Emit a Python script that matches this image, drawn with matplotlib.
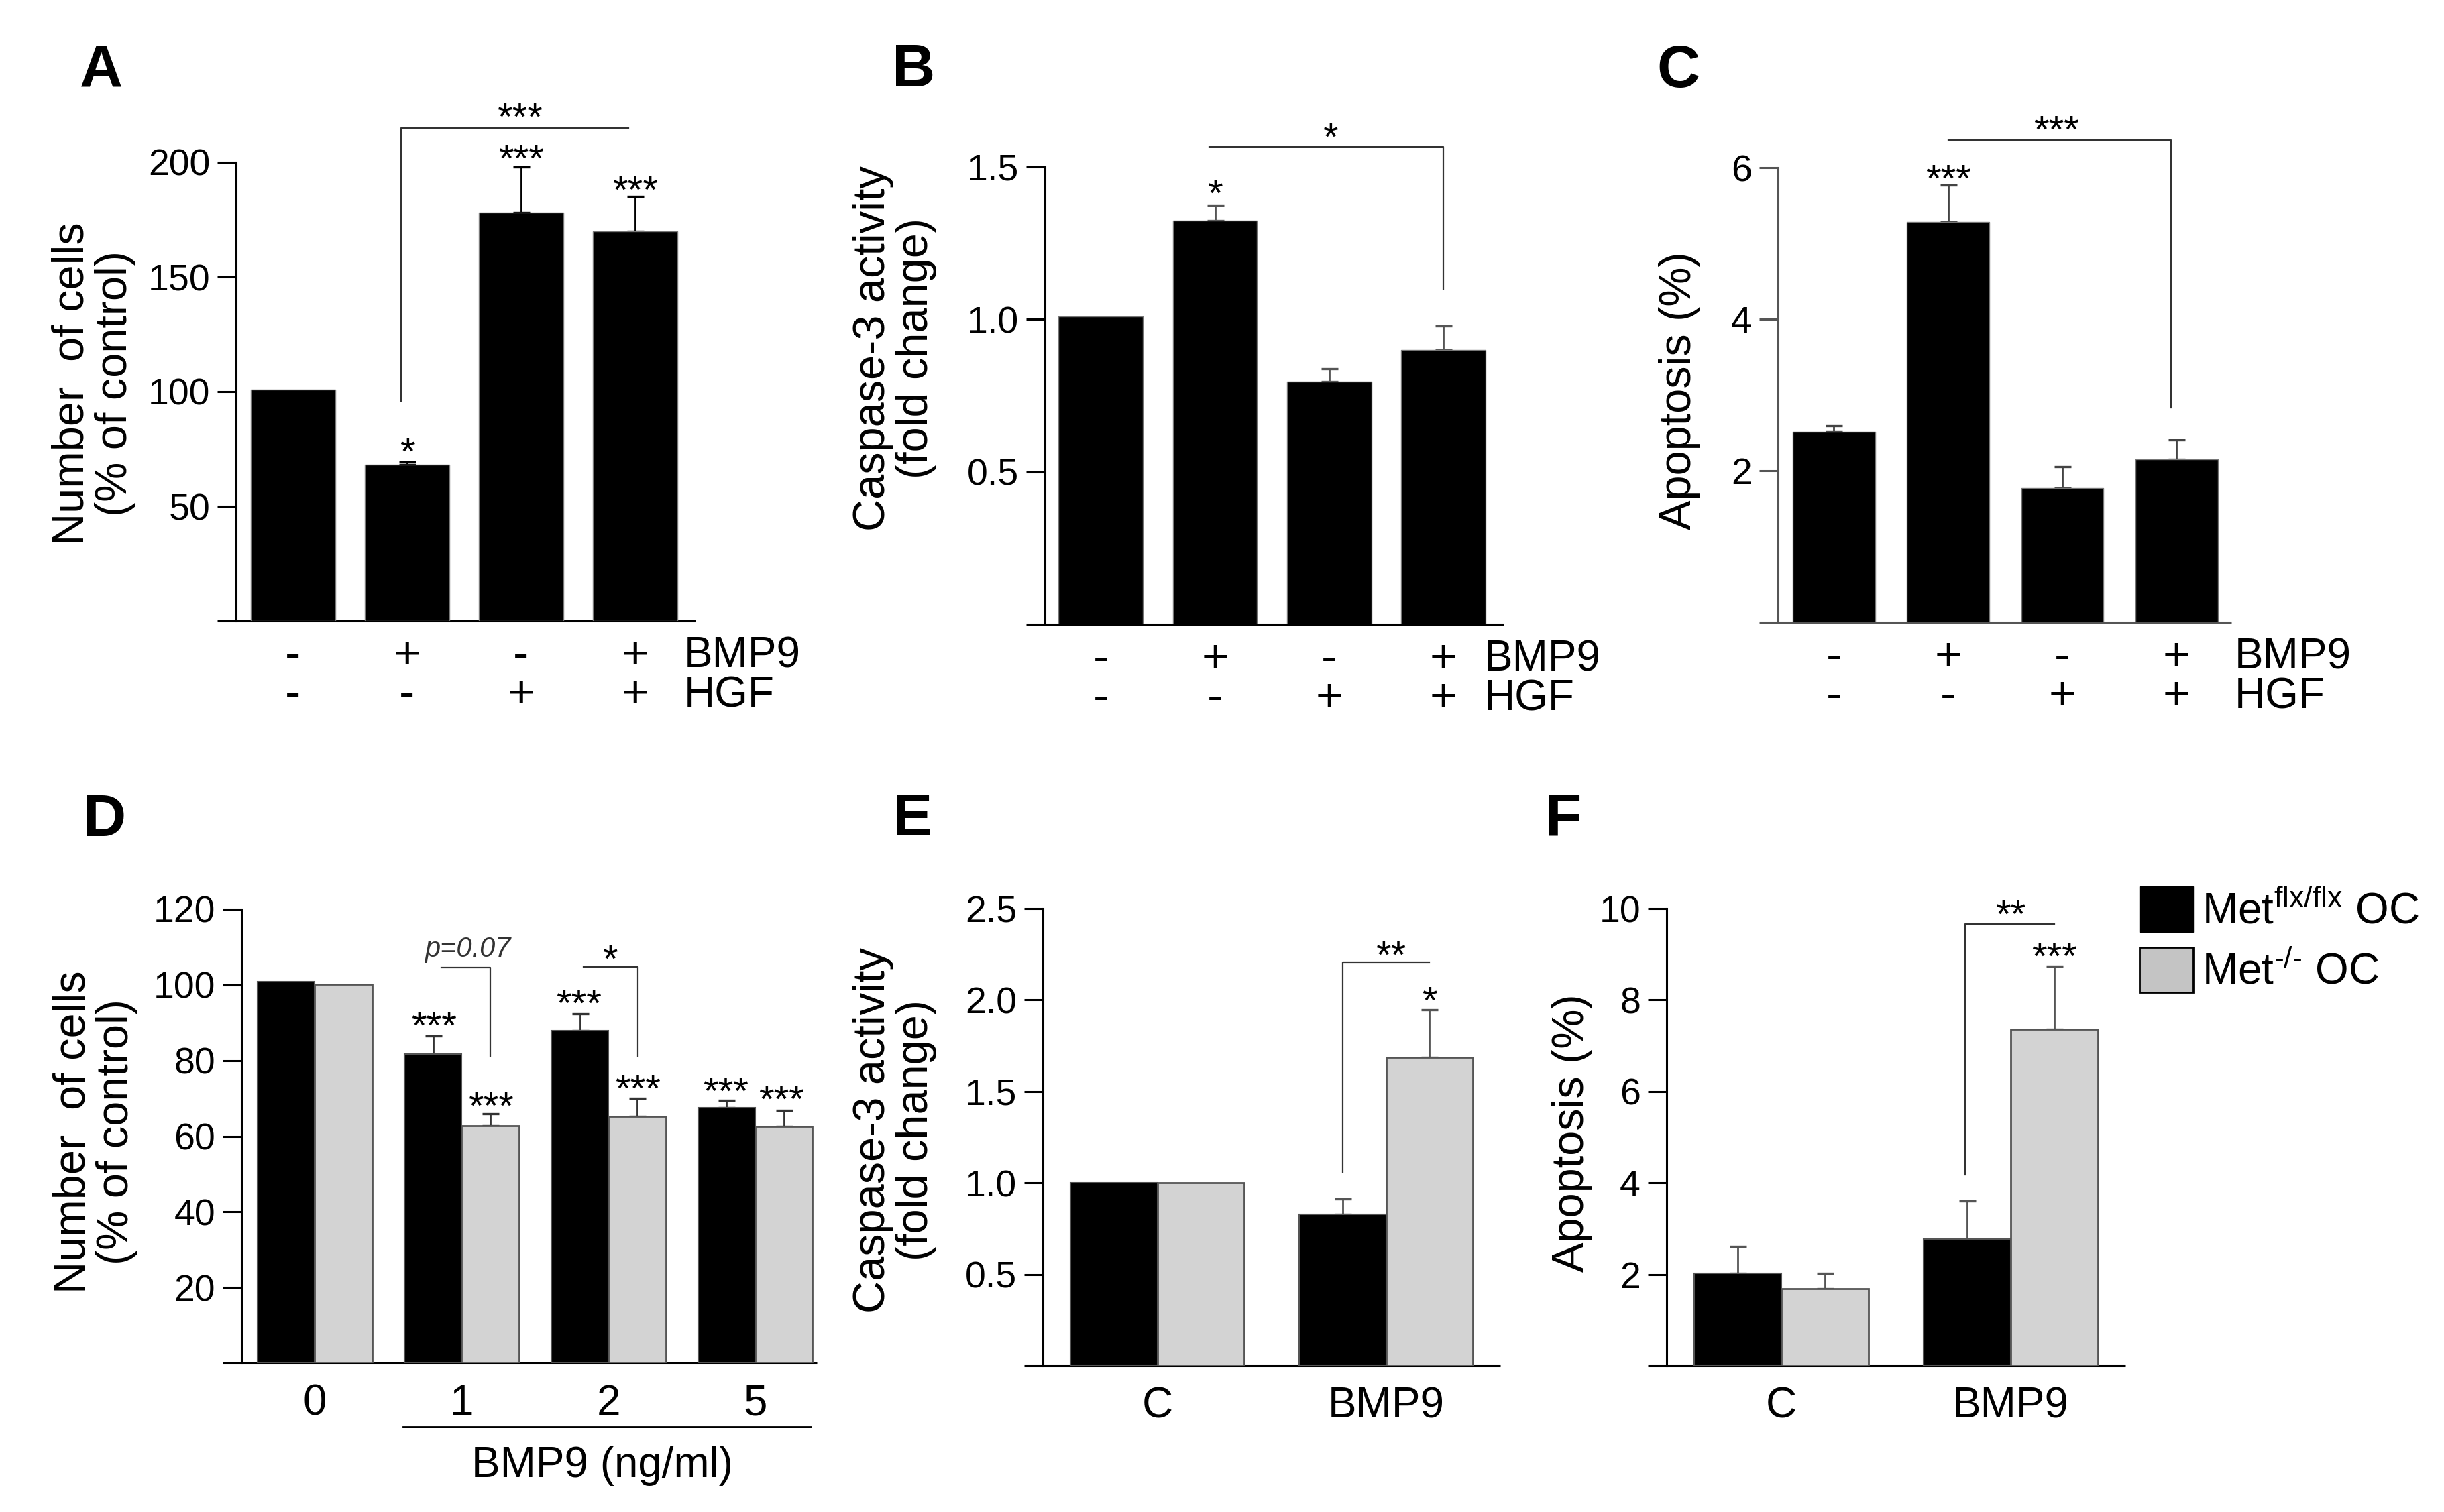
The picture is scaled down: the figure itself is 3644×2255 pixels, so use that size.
import matplotlib
matplotlib.use("Agg")
import matplotlib.pyplot as plt
from matplotlib import transforms
from matplotlib.patches import Patch

plt.rcParams['font.family'] = ['Liberation Sans', 'DejaVu Sans']
plt.rcParams['mathtext.fontset'] = 'custom'
plt.rcParams['mathtext.rm'] = 'Liberation Sans'
plt.rcParams['mathtext.it'] = 'Liberation Sans:italic'

# ---- data ----
bmp9_row = ['-', '+', '-', '+']
hgf_row = ['-', '-', '+', '+']

a_vals = [101, 68, 178, 170]
a_err = [0, 1.2, 20, 15]
b_vals = [1.01, 1.325, 0.797, 0.899]
b_err = [0, 0.05, 0.04, 0.08]
c_vals = [2.51, 5.28, 1.77, 2.15]
c_err = [0.08, 0.49, 0.28, 0.26]

d_groups = ['0', '1', '2', '5']
d_flx = [100.9, 81.8, 87.9, 67.6]
d_flx_err = [0, 4.7, 4.5, 1.9]
d_ko = [100.1, 62.8, 65.2, 62.5]
d_ko_err = [0, 3.1, 4.9, 4.3]

ef_groups = ['C', 'BMP9']
e_flx = [1.0, 0.827]
e_flx_err = [0, 0.085]
e_ko = [1.0, 1.688]
e_ko_err = [0, 0.26]
f_flx = [2.03, 2.77]
f_flx_err = [0.58, 0.84]
f_ko = [1.68, 7.36]
f_ko_err = [0.35, 1.38]

legend_labels = [r'Met$^{\mathrm{flx/flx}}$ OC', 'Met$^{\u2010/\u2010}$ OC']

W, H = 3644, 2255
GRAY = '#d3d3d3'
fig = plt.figure(figsize=(W / 100, H / 100), dpi=100)


def px_rect(x0, x1, yt, yb):
    return [x0 / W, 1 - yb / H, (x1 - x0) / W, (yb - yt) / H]


def style_axes(ax, xlim, ylim, yticks, color='black'):
    ax.set_xlim(*xlim)
    ax.set_ylim(*ylim)
    ax.set_yticks(yticks)
    for s in ['top', 'right', 'bottom']:
        ax.spines[s].set_visible(False)
    ax.spines['left'].set_color(color)
    ax.spines['left'].set_linewidth(2.2)
    ax.tick_params(axis='y', length=20, width=2.2, labelsize=40, pad=8, color=color)
    ax.tick_params(axis='x', length=0)
    ax.set_xticks([])
    ext = 28 / (ax.get_position().width * W)
    ax.plot([-ext, 1], [0, 0], transform=ax.transAxes, color=color, lw=2.2,
            clip_on=False, solid_capstyle='butt')


def err_up(ax, xs, vals, errs, color='#333333'):
    for x, v, e in zip(xs, vals, errs):
        if e > 0:
            ax.errorbar(x, v, yerr=[[0], [e]], fmt='none', ecolor=color,
                        elinewidth=2.0, capsize=9, capthick=2.4, zorder=1)


def star(ax, x, y, s, fs=42):
    ax.annotate(s, (x, y), xytext=(0, -0.58 * fs), textcoords='offset points',
                ha='center', va='baseline', fontsize=fs, annotation_clip=False)


def bracket(ax, x0, x1, y, y0=None, y1=None):
    xs, ys = [], []
    if y0 is not None:
        xs.append(x0); ys.append(y0)
    xs += [x0, x1]; ys += [y, y]
    if y1 is not None:
        xs.append(x1); ys.append(y1)
    ax.plot(xs, ys, color='#333333', lw=1.6, clip_on=False)


def sign_rows(ax, label_x):
    tr = transforms.blended_transform_factory(ax.transData, ax.transAxes)
    for i, (b, h) in enumerate(zip(bmp9_row, hgf_row)):
        ax.annotate(b, (i, 0), xycoords=tr, xytext=(0, -38), textcoords='offset points',
                    ha='center', va='center', fontsize=50)
        ax.annotate(h, (i, 0), xycoords=tr, xytext=(0, -80), textcoords='offset points',
                    ha='center', va='center', fontsize=50)
    ax.annotate('BMP9', (label_x, 0), xycoords=tr, xytext=(0, -38), textcoords='offset points',
                ha='left', va='center', fontsize=46)
    ax.annotate('HGF', (label_x, 0), xycoords=tr, xytext=(0, -80), textcoords='offset points',
                ha='left', va='center', fontsize=46)


def ylab(x, y, s):
    fig.text(x / W, 1 - y / H, s, rotation=90, ha='center', va='center',
             fontsize=48, linespacing=1.05, multialignment='center')


def letter(x, y, s):
    fig.text(x / W, 1 - y / H, s, ha='center', va='baseline', fontsize=64, fontweight='bold')


# ---- A ----
ax = fig.add_axes(px_rect(352, 1037, 242, 926))
style_axes(ax, (-0.5, 3.53), (0, 200), [50, 100, 150, 200])
xs = range(len(a_vals))
ax.bar(xs, a_vals, width=0.74, color='black', edgecolor='#777777', lw=1, zorder=2)
err_up(ax, xs, a_vals, a_err, 'black')
star(ax, 1, 78, '*'); star(ax, 2, 206, '***'); star(ax, 3, 192, '***')
bracket(ax, 0.95, 2.94, 215, y0=96)
star(ax, 1.99, 224, '***')
sign_rows(ax, 3.43)
ylab(140, 572, 'Number  of cells\n(% of control)')
letter(151, 130, 'A')

# ---- B ----
ax = fig.add_axes(px_rect(1558, 2242, 249, 931))
style_axes(ax, (-0.49, 3.53), (0, 1.5), [0.5, 1.0, 1.5])
xs = range(len(b_vals))
ax.bar(xs, b_vals, width=0.74, color='black', edgecolor='#777777', lw=1, zorder=2)
err_up(ax, xs, b_vals, b_err, '#555555')
star(ax, 1, 1.445, '*')
bracket(ax, 0.95, 3.0, 1.565, y1=1.10)
star(ax, 2.01, 1.63, '*')
sign_rows(ax, 3.36)
ylab(1334, 520, 'Caspase-3 activity\n(fold change)')
letter(1362, 129, 'B')

# ---- C ----
ax = fig.add_axes(px_rect(2651, 3327, 250, 928))
style_axes(ax, (-0.49, 3.48), (0, 6), [2, 4, 6], color='#555555')
xs = range(len(c_vals))
ax.bar(xs, c_vals, width=0.72, color='black', edgecolor='#777777', lw=1, zorder=2)
err_up(ax, xs, c_vals, c_err, '#444444')
star(ax, 1, 5.98, '***')
bracket(ax, 1.0, 2.95, 6.36, y1=2.83)
star(ax, 1.95, 6.63, '***')
sign_rows(ax, 3.51)
ylab(2504, 583, 'Apoptosis (%)')
letter(2502, 130, 'C')

# ---- D ----
ax = fig.add_axes(px_rect(360, 1218, 1356, 2033))
style_axes(ax, (-0.5, 3.42), (0, 120), [20, 40, 60, 80, 100, 120])
w = 0.39
gx = list(range(len(d_groups)))
xb = [g - w / 2 for g in gx]
xg = [g + w / 2 for g in gx]
ax.bar(xb, d_flx, width=w, color='black', edgecolor='#555555', lw=1.5, zorder=2)
ax.bar(xg, d_ko, width=w, color=GRAY, edgecolor='#555555', lw=2, zorder=2)
err_up(ax, xb, d_flx, d_flx_err)
err_up(ax, xg, d_ko, d_ko_err)
for x, y in [(0.81, 91.9), (1.2, 70.6), (1.8, 97.7), (2.2, 75.1), (2.8, 74.5), (3.18, 72.3)]:
    star(ax, x, y, '***')
bracket(ax, 0.86, 1.195, 104.5, y1=81.2)
ax.annotate('p=0.07', (1.04, 110), xytext=(0, -0.36 * 30), textcoords='offset points',
            ha='center', va='baseline', fontsize=30, style='italic', color='#333333',
            annotation_clip=False)
bracket(ax, 1.83, 2.2, 104.8, y1=81.2)
star(ax, 2.01, 109.3, '*')
ax.set_xticks(gx)
ax.set_xticklabels(d_groups, fontsize=46)
ax.tick_params(axis='x', pad=22)
tr = transforms.blended_transform_factory(ax.transData, ax.transAxes)
ax.plot([0.6, 3.38], [-95 / 677, -95 / 677], transform=tr, color='black', lw=2, clip_on=False)
ax.text(1.96, -153 / 677, 'BMP9 (ng/ml)', transform=tr, ha='center', va='center', fontsize=46)
ylab(142, 1688, 'Number  of cells\n(% of control)')
letter(156, 1247, 'D')

# ---- E ----
ax = fig.add_axes(px_rect(1555, 2237, 1355, 2037))
style_axes(ax, (-0.5, 1.5), (0, 2.5), [0.5, 1.0, 1.5, 2.0, 2.5])
w = 0.38
gx = list(range(len(ef_groups)))
xb = [g - w / 2 for g in gx]
xg = [g + w / 2 for g in gx]
ax.bar(xb, e_flx, width=w, color='black', edgecolor='#555555', lw=1.5, zorder=2)
ax.bar(xg, e_ko, width=w, color=GRAY, edgecolor='#555555', lw=2, zorder=2)
err_up(ax, xb, e_flx, e_flx_err, '#555555')
err_up(ax, xg, e_ko, e_ko_err, '#555555')
star(ax, 1.19, 2.05, '*')
bracket(ax, 0.81, 1.19, 2.208, y0=1.061)
star(ax, 1.02, 2.30, '**')
ax.set_xticks(gx)
ax.set_xticklabels(ef_groups, fontsize=46)
ax.tick_params(axis='x', pad=22)
ylab(1334, 1686, 'Caspase-3 activity\n(fold change)')
letter(1361, 1246, 'E')

# ---- F ----
ax = fig.add_axes(px_rect(2485, 3169, 1355, 2037))
style_axes(ax, (-0.5, 1.5), (0, 10), [2, 4, 6, 8, 10])
ax.bar(xb, f_flx, width=w, color='black', edgecolor='#555555', lw=1.5, zorder=2)
ax.bar(xg, f_ko, width=w, color=GRAY, edgecolor='#555555', lw=2, zorder=2)
err_up(ax, xb, f_flx, f_flx_err, '#555555')
err_up(ax, xg, f_ko, f_ko_err, '#555555')
star(ax, 1.19, 9.16, '***')
bracket(ax, 0.80, 1.19, 9.67, y0=4.18)
star(ax, 1.0, 10.09, '**')
ax.set_xticks(gx)
ax.set_xticklabels(ef_groups, fontsize=46)
ax.tick_params(axis='x', pad=22)
ylab(2344, 1690, 'Apoptosis (%)')
letter(2331, 1246, 'F')

handles = [Patch(facecolor='black', edgecolor='black'),
           Patch(facecolor='#c4c4c4', edgecolor='black', lw=2)]
fig.legend(handles, legend_labels, loc='upper left',
           bbox_to_anchor=(3190 / W, 1 - 1322 / H), bbox_transform=fig.transFigure,
           frameon=False, fontsize=46, borderpad=0, borderaxespad=0,
           handlelength=1.25, handleheight=1.25, handletextpad=0.2, labelspacing=0.35)

fig.savefig('out.png', dpi=100)
